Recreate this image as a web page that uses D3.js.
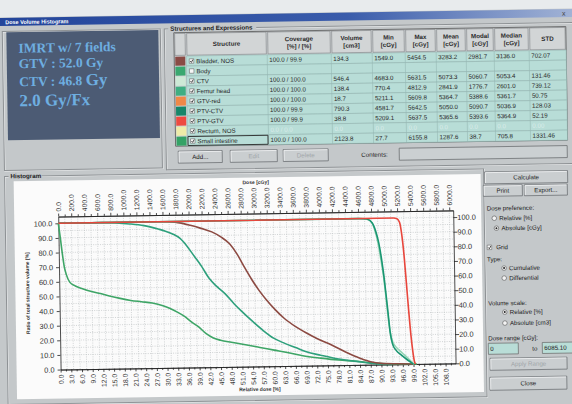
<!DOCTYPE html>
<html>
<head>
<meta charset="utf-8">
<script src="https://cdn.jsdelivr.net/npm/d3@7"></script>
<style>
  body { margin: 0; background: #e7eaec; }
  svg { display: block; }
</style>
</head>
<body>
<svg id="chart" width="572" height="404" font-family="'Liberation Sans', Arial, sans-serif"></svg>
<script>
// ---- table data ----
const structures = ["Bladder, NOS", "Body", "CTV", "Femur head", "GTV-red", "PTV-CTV", "PTV-GTV", "Rectum, NOS", "Small intestine"];
const checked = [true, false, true, true, true, true, true, true, true];
const coverage = ["100.0 / 99.9", "", "100.0 / 100.0", "100.0 / 100.0", "100.0 / 100.0", "100.0 / 99.9", "100.0 / 99.9", "0.0 / 0.0", "100.0 / 100.0"];
const volume = [134.3, null, 546.4, 138.4, 18.7, 790.3, 38.8, 0, 2123.8];
const minDose = [1549.0, null, 4683.0, 770.4, 5211.1, 4581.7, 5209.1, 0, 27.7];
const maxDose = [5454.5, null, 5631.5, 4812.9, 5609.8, 5642.5, 5637.5, 0, 6155.8];
const meanDose = [3283.2, null, 5073.3, 2841.9, 5364.7, 5050.0, 5365.6, 0, 1287.6];
const modalDose = [2981.7, null, 5060.7, 1776.7, 5388.6, 5090.7, 5393.6, 0, 38.7];
const medianDose = [3136.0, null, 5053.4, 2601.0, 5361.7, 5036.9, 5364.9, 0, 705.8];
const stdDose = [702.07, null, 131.46, 739.12, 50.75, 128.03, 52.19, 0, 1331.46];
const headers = [["Structure"], ["Coverage", "[%] / [%]"], ["Volume", "[cm3]"], ["Min", "[cGy]"], ["Max", "[cGy]"],
  ["Mean", "[cGy]"], ["Modal", "[cGy]"], ["Median", "[cGy]"], ["STD"]];

// ---- DVH curves: [relative dose %, volume %] ----
const bladderDvh = [[0, 100], [28, 100], [31, 99.8], [34, 99], [37, 97.2], [40, 95], [43, 92.5], [45.5, 89], [48, 84],
  [50, 77], [52, 68], [54, 59.5], [56, 52], [58, 45.5], [60.5, 38.5], [63, 32.5], [66, 27], [69, 22.5], [72, 18.5],
  [76, 14], [80, 9], [84, 4.6], [87, 2], [90, 0.8], [95, 0.3], [99, 0]];
const femurDvh = [[0, 100], [12, 100], [16, 99.6], [20, 98.8], [24, 97.5], [28, 95], [30, 93.5], [32, 91.5], [34, 88.5],
  [36, 83], [38, 76], [40, 69], [42, 61], [44, 55.5], [46.5, 50], [49, 43], [51, 38], [54, 31], [57, 24.5], [60, 19],
  [63, 15.5], [66, 12.5], [69, 9.5], [73, 7], [78, 4.2], [83, 2.4], [87, 1], [90, 0.3], [93, 0]];
const intestineDvh = [[0, 100], [0.5, 90], [1, 79], [1.5, 70], [2, 65], [3, 59.5], [4.5, 57], [6.5, 55], [9, 53],
  [11.5, 51.5], [14, 49.8], [17, 48], [20, 46.5], [23, 45.5], [26, 44.5], [29, 42.5], [31, 40.5], [33, 38], [35, 35],
  [37, 31], [39, 27.5], [41, 23], [43, 20], [45, 18.3], [48, 16.8], [52, 15], [56, 13], [60, 11], [64, 9], [68, 6.8],
  [73, 5], [78, 3.5], [83, 2.5], [87, 1.3], [90, 0.6], [95, 0.2], [100, 0]];
const ctvDvh = [[0, 100], [85.5, 100], [87.5, 98.5], [88.6, 93], [89.5, 84], [90.3, 72], [91, 60], [91.5, 48], [92, 35],
  [92.6, 22], [93.3, 15], [94.5, 11], [96, 7.5], [97.5, 4], [98.6, 1.2], [99.2, 0]];
const ptvCtvDvh = [[0, 100], [84, 100], [86.5, 99.6], [88, 97], [89, 91], [89.8, 83], [90.5, 72], [91.1, 60], [91.6, 48],
  [92.1, 35], [92.6, 22], [93.2, 14], [94.2, 9.5], [95.5, 6.5], [97, 3.5], [98.3, 1.2], [99, 0]];
const ptvGtvDvh = [[0, 100], [94, 100], [95, 99.5], [95.7, 97], [96.3, 88], [96.9, 72], [97.4, 54], [97.9, 36],
  [98.4, 20], [98.9, 8], [99.3, 1.5], [99.6, 0]];

// axis ticks
const relTicks = d3.range(0, 108.1, 3);
const doseTicks = d3.range(0, 6001, 200);
const volTicks = d3.range(0, 100.1, 10);

// colours
const swatch = ["#8a4b45", "#3aa870", "#cde9d6", "#3fae82", "#f08848", "#17866a", "#ee4a40", "#eeeca8", "#34a266"];
const curves = [
  { data: intestineDvh, color: "#3ea566" },
  { data: femurDvh, color: "#2ea07c" },
  { data: bladderDvh, color: "#8c4a42" },
  { data: ctvDvh, color: "#93d4b4" },
  { data: ptvCtvDvh, color: "#1a9672" },
  { data: ptvGtvDvh, color: "#e8463c" },
];

const svg = d3.select("#chart");
svg.append("rect").attr("width", 572).attr("height", 404).attr("fill", "#e8ebed");

// title bar gradient
const grad = svg.append("defs").append("linearGradient").attr("id", "tbar");
grad.append("stop").attr("offset", "0").attr("stop-color", "#22449a");
grad.append("stop").attr("offset", "0.6").attr("stop-color", "#3a5cab");
grad.append("stop").attr("offset", "1").attr("stop-color", "#a8b8d8");

// the photo is slightly tilted
const root = svg.append("g").attr("transform", "rotate(-0.9,286,202)");

// window body + title bar
root.append("rect").attr("x", -10).attr("y", 13).attr("width", 600).attr("height", 400).attr("fill", "#c4c8ca");
root.append("rect").attr("x", -10).attr("y", 13.5).attr("width", 600).attr("height", 8).attr("fill", "url(#tbar)");
root.append("text").attr("x", 8).attr("y", 19.8).attr("fill", "#fff").attr("font-size", 5.5)
  .attr("font-weight", "bold").text("Dose Volume Histogram");
root.append("text").attr("x", 565).attr("y", 20).attr("fill", "#444").attr("font-size", 7).text("x");

// etched group frame
function groupBox(x0, y0, w, h, label, labelW) {
  root.append("rect").attr("x", x0 + 0.5).attr("y", y0 + 0.5).attr("width", w).attr("height", h)
    .attr("fill", "none").attr("stroke", "#f2f3f4");
  root.append("rect").attr("x", x0).attr("y", y0).attr("width", w).attr("height", h)
    .attr("fill", "none").attr("stroke", "#8d9194");
  if (label) {
    root.append("rect").attr("x", x0 + 4).attr("y", y0 - 3).attr("width", labelW).attr("height", 6)
      .attr("fill", "#c4c8ca");
    root.append("text").attr("x", x0 + 6).attr("y", y0 + 2).attr("font-size", 6.2)
      .attr("font-weight", "bold").attr("fill", "#222").text(label);
  }
}

function button(x0, y0, w, h, label, disabled) {
  const b = root.append("g");
  b.append("rect").attr("x", x0).attr("y", y0).attr("width", w).attr("height", h).attr("fill", "#caced0")
    .attr("stroke", "#6f7376").attr("stroke-width", 0.8);
  b.append("path").attr("d", `M${x0 + 0.8},${y0 + h - 0.8}V${y0 + 0.8}H${x0 + w - 0.8}`)
    .attr("fill", "none").attr("stroke", "#f4f5f6").attr("stroke-width", 0.8);
  b.append("text").attr("x", x0 + w / 2).attr("y", y0 + h / 2).attr("dy", "0.35em").attr("text-anchor", "middle")
    .attr("font-size", 6.2).attr("fill", disabled ? "#a0a5a8" : "#222").text(label);
}

function radio(x0, y0, label, on) {
  root.append("circle").attr("cx", x0).attr("cy", y0).attr("r", 2.3).attr("fill", "#f4f4f4")
    .attr("stroke", "#555").attr("stroke-width", 0.6);
  if (on) root.append("circle").attr("cx", x0).attr("cy", y0).attr("r", 1).attr("fill", "#222");
  root.append("text").attr("x", x0 + 5).attr("y", y0).attr("dy", "0.35em").attr("font-size", 6.2)
    .attr("fill", "#222").text(label);
}

function checkBox(x0, y0, on) {
  root.append("rect").attr("x", x0).attr("y", y0).attr("width", 4.5).attr("height", 4.5).attr("fill", "#f6f6f6")
    .attr("stroke", "#555").attr("stroke-width", 0.5);
  if (on) root.append("path").attr("d", `M${x0 + 0.9},${y0 + 2.3}l1.2,1.3l1.6,-2.8`).attr("fill", "none")
    .attr("stroke", "#222").attr("stroke-width", 0.8);
}

function label(x0, y0, txt, size, color) {
  root.append("text").attr("x", x0).attr("y", y0).attr("dy", "0.35em").attr("font-size", size || 6.2)
    .attr("fill", color || "#222").text(txt);
}

// ---- plan notes panel ----
groupBox(5, 27, 158, 139, null);
root.append("rect").attr("x", 9).attr("y", 28).attr("width", 152).attr("height", 108).attr("fill", "#4c5b74");
const notes = root.append("g").attr("font-family", "'Liberation Serif', 'Times New Roman', serif")
  .attr("font-weight", "bold").attr("fill", "#6eaee0");
notes.append("text").attr("x", 21).attr("y", 48.5).attr("font-size", 13.5).text("IMRT  w/ 7 fields");
notes.append("text").attr("x", 21).attr("y", 64).attr("font-size", 13.5).text("GTV : 52.0 Gy");
const ctvLine = notes.append("text").attr("x", 21).attr("y", 82).attr("font-size", 13.5);
ctvLine.append("tspan").text("CTV : 46.8 ");
ctvLine.append("tspan").attr("font-size", 17).text("Gy");
notes.append("text").attr("x", 21).attr("y", 102).attr("font-size", 17).text("2.0 Gy/Fx");

// ---- structures table ----
groupBox(167, 27, 410, 141, "Structures and Expressions", 88);
const colX = [176.5, 188.5, 269.5, 333.5, 374.5, 407.5, 438.5, 468.5, 496.5, 531.5, 568.5];
const headTop = 31, headH = 23.5, rowTop = 54.5, rowH = 10;
const table = root.append("g");
table.append("rect").attr("x", colX[0]).attr("y", headTop).attr("width", colX[10] - colX[0])
  .attr("height", headH + rowH * structures.length).attr("fill", "#cdd1d3").attr("stroke", "#555").attr("stroke-width", 0.8);
// header cells
headers.forEach((h, i) => {
  const x0 = colX[i + 1], x1 = colX[i + 2];
  table.append("rect").attr("x", x0 + 0.8).attr("y", headTop + 0.8).attr("width", x1 - x0 - 1.6)
    .attr("height", headH - 1.6).attr("fill", "#d2d5d6").attr("stroke", "#7d8184").attr("stroke-width", 0.6);
  h.forEach((line, j) => {
    table.append("text").attr("x", (x0 + x1) / 2)
      .attr("y", headTop + headH / 2 + (h.length === 1 ? 0 : (j - 0.5) * 7.5)).attr("dy", "0.35em")
      .attr("text-anchor", "middle").attr("font-size", 6.2).attr("font-weight", "bold").attr("fill", "#2a2a2a").text(line);
  });
});
table.append("rect").attr("x", colX[0] + 0.8).attr("y", headTop + 0.8).attr("width", colX[1] - colX[0] - 1.6)
  .attr("height", headH - 1.6).attr("fill", "#d2d5d6").attr("stroke", "#7d8184").attr("stroke-width", 0.6);

const statCols = [volume, minDose, maxDose, meanDose, modalDose, medianDose, stdDose];
structures.forEach((name, r) => {
  const y0 = rowTop + r * rowH;
  table.append("rect").attr("x", colX[0] + 1).attr("y", y0 + 0.5).attr("width", colX[1] - colX[0] - 2)
    .attr("height", rowH - 1).attr("fill", swatch[r]);
  table.append("rect").attr("x", colX[1]).attr("y", y0).attr("width", colX[10] - colX[1]).attr("height", rowH)
    .attr("fill", "#b8ddd7").attr("stroke", "#8fb0ac").attr("stroke-width", 0.5);
  for (let c = 2; c < 10; c++) {
    table.append("line").attr("x1", colX[c]).attr("x2", colX[c]).attr("y1", y0).attr("y2", y0 + rowH)
      .attr("stroke", "#8fb0ac").attr("stroke-width", 0.5);
  }
  if (r === structures.length - 1) {
    table.append("rect").attr("x", colX[1] + 0.5).attr("y", y0 + 0.5).attr("width", colX[2] - colX[1] - 1)
      .attr("height", rowH - 1).attr("fill", "none").attr("stroke", "#2a2a2a").attr("stroke-width", 0.9);
  }
  checkBox(colX[1] + 3, y0 + 2.8, checked[r]);
  table.append("text").attr("x", colX[1] + 10).attr("y", y0 + rowH / 2 + 0.3).attr("dy", "0.35em")
    .attr("font-size", 6.2).attr("fill", "#2a2a2a").text(name);
  const grey = name === "Rectum, NOS";
  const cells = [coverage[r]].concat(statCols.map((col, k) =>
    col[r] == null ? "" : col[r].toFixed(k === 6 ? 2 : 1)));
  cells.forEach((v, k) => {
    table.append("text").attr("x", colX[k + 2] + 2).attr("y", y0 + rowH / 2).attr("dy", "0.35em")
      .attr("font-size", 6.2).attr("fill", grey ? "#d8ecea" : "#2a2a2a").text(v);
  });
});

button(179, 149.5, 44, 12, "Add...", false);
button(231, 149.5, 47, 12, "Edit", true);
button(284, 149.5, 45, 12, "Delete", true);
label(362, 156, "Contents:", 6.2);
root.append("rect").attr("x", 400).attr("y", 150).attr("width", 168).attr("height", 12).attr("fill", "#cbd0d2")
  .attr("stroke", "#6c7073").attr("stroke-width", 0.8);

// ---- histogram panel ----
groupBox(5, 172, 479, 228, "Histogram", 33);
root.append("rect").attr("x", 14).attr("y", 177).attr("width", 467).attr("height", 218).attr("fill", "#fbfbfb");

// right side controls
button(485, 175, 83, 12, "Calculate", false);
button(483.5, 188.5, 39, 11, "Print", false);
button(524.5, 188.5, 43, 11, "Export...", false);
label(486.5, 211.5, "Dose preference:");
radio(494, 221.5, "Relative [%]", false);
radio(496, 231.5, "Absolute [cGy]", true);
checkBox(486.5, 248.3, true);
label(495.5, 250.5, "Grid");
label(486, 262.5, "Type:");
radio(503, 271.5, "Cumulative", true);
radio(503, 281.5, "Differential", false);
label(486.5, 306.5, "Volume scale:");
radio(503, 315.5, "Relative [%]", true);
radio(503, 326.5, "Absolute [cm3]", false);
label(486, 341.5, "Dose range [cGy]:");
root.append("rect").attr("x", 486).attr("y", 346.5).attr("width", 30).attr("height", 11).attr("fill", "#b9ddd7")
  .attr("stroke", "#666").attr("stroke-width", 0.7);
label(488, 352, "0");
label(530, 352.5, "to");
root.append("rect").attr("x", 540).attr("y", 346.5).attr("width", 31).attr("height", 11).attr("fill", "#b9ddd7")
  .attr("stroke", "#666").attr("stroke-width", 0.7);
label(542, 352, "6085.10");
button(487.5, 361.5, 77, 12, "Apply Range", true);
button(487, 380.5, 77, 13, "Close", false);

// ---- chart ----
const x = d3.scaleLinear().domain([0, 110.8]).range([58, 453]);
const xDose = d3.scaleLinear().domain([0, 6060]).range([58, 453]);
const y = d3.scaleLinear().domain([0, 104.6]).range([366, 213]);
const chart = root.append("g");

// dotted grid
chart.append("g").selectAll("line").data(d3.range(100, 6060, 100)).join("line")
  .attr("x1", (d) => xDose(d)).attr("x2", (d) => xDose(d)).attr("y1", y(104.6)).attr("y2", y(0))
  .attr("stroke", "#b6babd").attr("stroke-width", 0.6).attr("stroke-dasharray", "1,1.3");
chart.append("g").selectAll("line").data(d3.range(5, 104.6, 5)).join("line")
  .attr("x1", x(0)).attr("x2", x(110.8)).attr("y1", (d) => y(d)).attr("y2", (d) => y(d))
  .attr("stroke", "#b6babd").attr("stroke-width", 0.6).attr("stroke-dasharray", "1,1.3");

function styleAxis(g) {
  g.attr("font-family", null);
  g.selectAll("path, line").attr("stroke", "#222").attr("stroke-width", 0.8);
  g.selectAll("text").attr("font-size", 6.8).attr("fill", "#333");
}

chart.append("g").attr("transform", `translate(0,${y(0)})`)
  .call(d3.axisBottom(x).tickValues(d3.range(1.5, 110, 3)).tickFormat("").tickSize(2).tickSizeOuter(0)).call(styleAxis);
chart.append("g").attr("transform", `translate(0,${y(104.6)})`)
  .call(d3.axisTop(xDose).tickValues(d3.range(100, 6060, 200)).tickFormat("").tickSize(2).tickSizeOuter(0)).call(styleAxis);

chart.append("g").attr("transform", `translate(0,${y(0)})`)
  .call(d3.axisBottom(x).tickValues(relTicks).tickFormat(d3.format(".1f")).tickSize(3).tickSizeOuter(0))
  .call(styleAxis)
  .selectAll("text").attr("transform", "rotate(-90)").attr("x", -5).attr("y", 0).attr("dy", "0.35em")
  .attr("text-anchor", "end");
chart.append("g").attr("transform", `translate(0,${y(104.6)})`)
  .call(d3.axisTop(xDose).tickValues(doseTicks).tickFormat(d3.format(".1f")).tickSize(3).tickSizeOuter(0))
  .call(styleAxis)
  .selectAll("text").attr("transform", "rotate(-90)").attr("x", 5).attr("y", 0).attr("dy", "0.35em")
  .attr("text-anchor", "start");
chart.append("g").attr("transform", `translate(${x(0)},0)`)
  .call(d3.axisLeft(y).tickValues(volTicks).tickFormat(d3.format(".1f")).tickSize(3).tickSizeOuter(0))
  .call(styleAxis).selectAll("text").attr("font-size", 7.4);
chart.append("g").attr("transform", `translate(${x(110.8)},0)`)
  .call(d3.axisRight(y).tickValues(volTicks).tickFormat(d3.format(".1f")).tickSize(4).tickPadding(0).tickSizeOuter(0))
  .call(styleAxis).selectAll("text").attr("font-size", 7.4);

// axis titles
chart.append("text").attr("x", 256).attr("y", 183.5).attr("text-anchor", "middle").attr("font-size", 5)
  .attr("font-weight", "bold").attr("fill", "#333").text("Dose [cGy]");
chart.append("text").attr("x", 257).attr("y", 390.5).attr("text-anchor", "middle").attr("font-size", 5)
  .attr("font-weight", "bold").attr("fill", "#333").text("Relative dose [%]");
chart.append("text").attr("transform", "translate(28,289) rotate(-90)").attr("text-anchor", "middle")
  .attr("font-size", 5).attr("font-weight", "bold").attr("fill", "#333").text("Ratio of total structure volume [%]");

// dvh curves
const line = d3.line().x((d) => x(d[0])).y((d) => y(d[1])).curve(d3.curveMonotoneX);
chart.append("g").selectAll("path").data(curves).join("path")
  .attr("d", (d) => line(d.data)).attr("fill", "none").attr("stroke", (d) => d.color)
  .attr("stroke-width", 1.6).attr("stroke-linejoin", "round");
</script>
</body>
</html>
